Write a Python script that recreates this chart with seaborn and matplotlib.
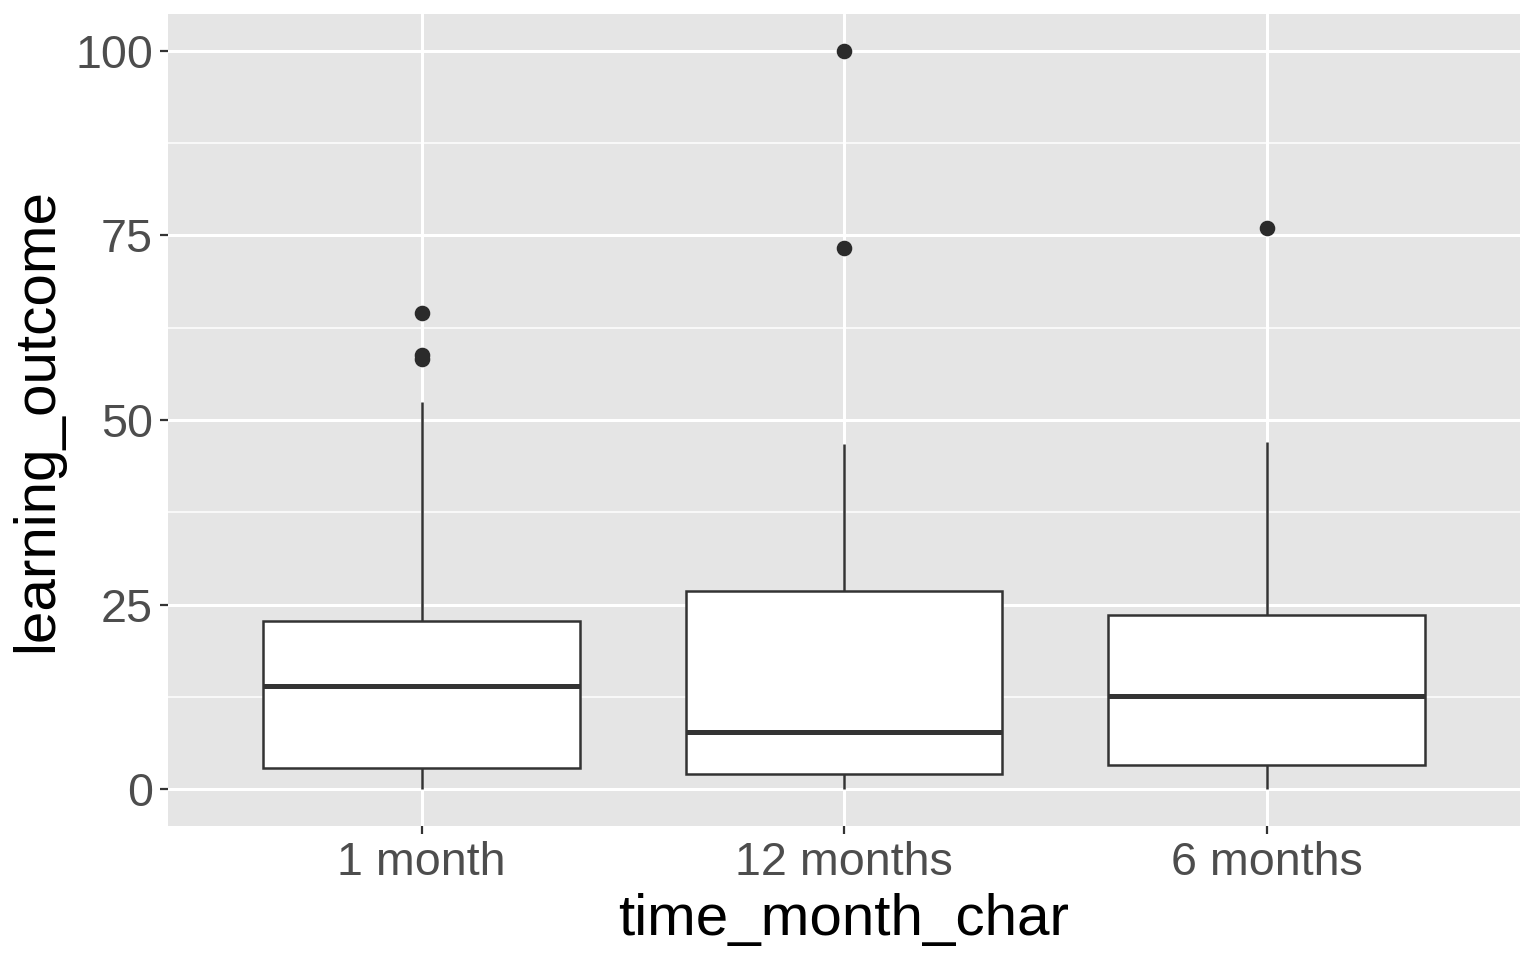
import numpy as np
import pandas as pd
import matplotlib
matplotlib.use("Agg")
import matplotlib.pyplot as plt
from matplotlib.ticker import MultipleLocator
import seaborn as sns

# values per group (quartiles, whiskers, outliers)
one_month = [0, 0.5, 1.5, 2.2, 2.8, 6, 9, 12, 14, 16, 19, 21, 22.8, 52.5, 58.2, 58.8, 64.5]
twelve_months = [0, 0.5, 1.2, 2.0, 3.5, 5, 7.8, 12, 18, 26.8, 46.7, 73.3, 100]
six_months = [0, 1.5, 3.2, 8, 12.6, 18, 23.6, 47, 76]
order = ["1 month", "12 months", "6 months"]

df = pd.DataFrame({
    "time_month_char": ["1 month"] * len(one_month)
    + ["12 months"] * len(twelve_months)
    + ["6 months"] * len(six_months),
    "learning_outcome": one_month + twelve_months + six_months,
})

sns.set_theme(style="darkgrid")
plt.rcParams["font.family"] = ["Liberation Sans", "DejaVu Sans"]

fig = plt.figure(figsize=(7.68, 4.8), dpi=200)
ax = fig.add_axes([168 / 1536, 1 - 826 / 960, (1520 - 168) / 1536, (826 - 14) / 960])
ax.set_facecolor("#E5E5E5")

line_col = "#333333"
sns.boxplot(
    data=df, x="time_month_char", y="learning_outcome", order=order,
    color="white", linecolor=line_col, linewidth=0.9, width=0.75,
    whis=1.5, showcaps=False, ax=ax,
    boxprops={"facecolor": "white", "edgecolor": line_col},
    medianprops={"color": line_col, "linewidth": 1.8},
    whiskerprops={"color": line_col},
    flierprops={"marker": "o", "markersize": 4.6, "markerfacecolor": "#2B2B2B",
                "markeredgecolor": "#2B2B2B"},
)

ax.set_xlim(-0.6, 2.6)
ax.set_ylim(-5, 105)
ax.yaxis.set_major_locator(MultipleLocator(25))
ax.yaxis.set_minor_locator(MultipleLocator(12.5))
ax.grid(which="major", color="white", linewidth=1.1)
ax.grid(which="minor", axis="y", color="white", linewidth=0.55)
ax.set_axisbelow(True)
for s in ax.spines.values():
    s.set_visible(False)

ax.tick_params(axis="both", which="major", length=2.9, width=0.8, color=line_col,
               labelsize=16.8, labelcolor="#4D4D4D", pad=2.5, bottom=True, left=True)
ax.tick_params(axis="both", which="minor", length=0)
ax.set_xlabel("time_month_char", fontsize=21, color="black", labelpad=3)
ax.set_ylabel("learning_outcome", fontsize=21, color="black", labelpad=4)

fig.savefig("out.png", dpi=200)
